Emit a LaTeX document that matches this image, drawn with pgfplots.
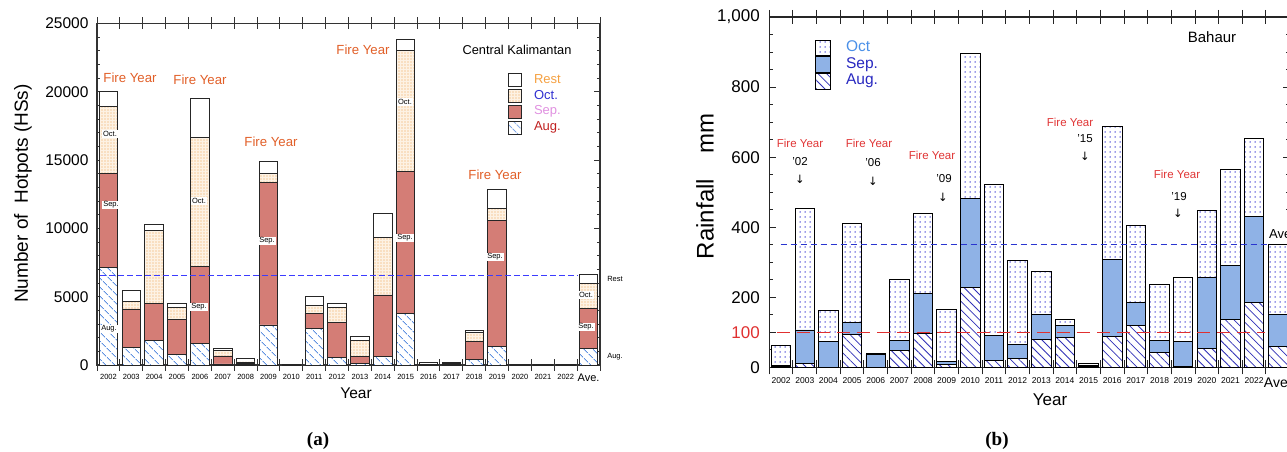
\documentclass[border=0pt]{standalone}
\usepackage{fontspec}
\setmainfont{Liberation Sans}
\newfontfamily\serifb{Liberation Serif}
\newfontfamily\dejavu{DejaVu Sans}
\usepackage{pgfplots}
\pgfplotsset{compat=1.18}
\usepackage{pgfplotstable}
\usetikzlibrary{patterns,patterns.meta}
\newcommand{\fs}[1]{\fontsize{#1}{#1}\selectfont}

\definecolor{augA}{RGB}{95,145,225}
\definecolor{sepA}{RGB}{212,125,118}
\definecolor{octAd}{RGB}{240,160,80}
\definecolor{octAb}{RGB}{253,242,228}
\definecolor{fireA}{RGB}{225,95,40}
\definecolor{restL}{RGB}{245,160,64}
\definecolor{octL}{RGB}{48,48,208}
\definecolor{sepL}{RGB}{224,144,224}
\definecolor{augL}{RGB}{192,32,32}
\definecolor{aveblue}{RGB}{60,60,255}
\definecolor{fireB}{RGB}{224,53,53}
\definecolor{blueB}{RGB}{42,53,208}
\definecolor{redB}{RGB}{224,48,48}
\definecolor{octB}{RGB}{53,53,208}
\definecolor{sepB}{RGB}{143,178,230}
\definecolor{augB}{RGB}{48,48,184}
\definecolor{octBL}{RGB}{74,144,232}
\definecolor{sepBL}{RGB}{40,40,192}

\pgfplotstableread{
i aug sep oct rest
0 7150 6900 4850 1100
1 1300 2800 560 780
2 1830 2660 5390 390
3 755 2590 875 295
4 1590 5600 9480 2850
5 75 585 390 170
6 20 120 80 270
7 2930 10415 655 910
8 10 20 10 20
9 2690 1090 560 710
10 535 2565 1125 290
11 125 485 1220 240
12 610 4515 4225 1750
13 3785 10395 8855 805
14 5 5 5 190
15 40 60 50 50
16 415 1340 635 170
17 1390 9220 860 1410
18 10 10 10 20
19 10 10 10 20
20 10 10 10 20
21 1220 2900 1860 660
}\dataA

\pgfplotstableread{
i aug sep oct
0 2 3 57
1 12 95 347
2 0 74 90
3 95 33 283
4 0 38 2
5 48 29 175
6 98 114 228
7 9 8 150
8 229 254 413
9 21 70 432
10 26 39 240
11 80 72 123
12 85 35 18
13 2 3 7
14 88 221 378
15 119 67 218
16 43 34 159
17 2 71 185
18 55 202 192
19 138 152 275
20 185 246 223
21 61 91 198
}\dataB

\pgfplotsset{
  boxA/.style={legend image code/.code={\draw[##1] (0pt,-6.5pt) rectangle (13pt,6.5pt);}},
  boxB/.style={legend image code/.code={\draw[##1] (0pt,-7.85pt) rectangle (15pt,7.85pt);}},
}

\begin{document}
\begin{tikzpicture}
% ---------------- Panel (a) ----------------
\begin{axis}[
  at={(97pt,87pt)}, anchor=south west, scale only axis,
  width=503pt, height=341.5pt,
  xmin=-0.5, xmax=21.5, ymin=0, ymax=25000,
  ybar stacked, bar width=18.5pt,
  xtick={-0.5,0.5,...,21.5},
  xticklabels={2002,2003,2004,2005,2006,2007,2008,2009,2010,2011,2012,2013,2014,2015,2016,2017,2018,2019,2020,2021,2022,{\fs{11}Ave.},{}},
  xticklabel style={xshift=11.43pt, font=\fs{7.5}, inner sep=0pt, yshift=-9pt},
  extra x ticks={-0.5,0.5,...,21.5}, extra x tick labels={},
  extra x tick style={tick align=outside},
  major tick length=6pt, minor tick length=3pt,
  ytick={0,5000,10000,15000,20000,25000},
  yticklabels={0,5000,10000,15000,20000,25000},
  scaled y ticks=false,
  minor y tick num=4,
  yticklabel style={font=\fs{15.5}, xshift=-5pt},
  axis line style={black!80, line width=1.1pt},
  every tick/.style={black!80, line width=1pt},
  clip=false,
  legend style={at={(axis description cs:0.817,0.855)}, anchor=north west, draw=none, fill=none, inner sep=0pt, font=\fs{13}, row sep=2pt, column sep=12pt, nodes={inner sep=0pt, anchor=west, text height=9.5pt, text depth=3.5pt}},
  reverse legend, legend cell align=left,
]
\addplot[draw=black!85, line width=0.9pt, preaction={fill=white}, pattern={Lines[angle=-45,distance=6.5pt,line width=0.9pt]}, pattern color=augA, boxA] table[x=i,y=aug]{\dataA};
\addplot[draw=black!85, line width=0.9pt, fill=sepA, boxA] table[x=i,y=sep]{\dataA};
\addplot[draw=black!85, line width=0.9pt, preaction={fill=octAb}, pattern={Dots[distance=3pt,radius=0.55pt]}, pattern color=octAd, boxA] table[x=i,y=oct]{\dataA};
\addplot[draw=black!85, line width=0.9pt, fill=white, boxA] table[x=i,y=rest]{\dataA};
\legend{\textcolor{augL}{Aug.},\textcolor{sepL}{Sep.},\textcolor{octL}{Oct.},\textcolor{restL}{Rest}}
\end{axis}

% ---------------- Panel (b) ----------------
\begin{axis}[
  at={(769.3pt,84.5pt)}, anchor=south west, scale only axis,
  width=520.3pt, height=350.5pt,
  xmin=-0.5, xmax=21.5, ymin=0, ymax=1000,
  ybar stacked, bar width=19.5pt,
  xtick={-0.5,0.5,...,21.5},
  xticklabels={2002,2003,2004,2005,2006,2007,2008,2009,2010,2011,2012,2013,2014,2015,2016,2017,2018,2019,2020,2021,2022,{\fs{14}Ave.},{}},
  xticklabel style={xshift=11.83pt, font=\fs{8.5}, inner sep=0pt, yshift=-10pt},
  extra x ticks={-0.5,0.5,...,21.5}, extra x tick labels={},
  extra x tick style={tick align=outside},
  major tick length=7pt, minor tick length=4pt,
  ytick={0,200,400,600,800,1000},
  yticklabels={0,200,400,600,800,{1,000}},
  scaled y ticks=false,
  minor y tick num=3,
  extra y ticks={100}, extra y tick labels={\textcolor{redB}{100}},
  yticklabel style={font=\fs{17}, xshift=-6pt},
  axis line style={black!85, line width=1.1pt},
  every tick/.style={black!85, line width=1pt},
  clip=false,
  legend style={at={(axis description cs:0.0878,0.936)}, anchor=north west, draw=none, fill=none, inner sep=0pt, font=\fs{15.5}, row sep=0pt, column sep=15pt, nodes={inner sep=0pt, anchor=west, text height=11.5pt, text depth=4.2pt}},
  reverse legend, legend cell align=left,
]
\addplot[draw=black, line width=0.9pt, preaction={fill=white}, pattern={Lines[angle=-45,distance=6pt,line width=0.8pt]}, pattern color=augB, boxB] table[x=i,y=aug]{\dataB};
\addplot[draw=black, line width=0.9pt, fill=sepB, boxB] table[x=i,y=sep]{\dataB};
\addplot[draw=black, line width=0.9pt, preaction={fill=white}, pattern={Dots[distance=5pt,radius=0.75pt]}, pattern color=octB, boxB] table[x=i,y=oct]{\dataB};
\legend{\textcolor{sepBL}{Aug.},\textcolor{sepBL}{Sep.},\textcolor{octBL}{Oct}}
\end{axis}
% overlay axis for the reference lines of panel (b)
\begin{axis}[
  at={(769.3pt,84.5pt)}, anchor=south west, scale only axis,
  width=520.3pt, height=350.5pt,
  xmin=-0.5, xmax=21.5, ymin=0, ymax=1000, hide axis, clip=false,
]
\addplot[blueB, line width=1.5pt, dash pattern=on 6pt off 4pt, no markers] coordinates {(-0.02,351) (20.55,351)};
\addplot[redB, line width=1.6pt, dash pattern=on 13pt off 7pt, no markers] coordinates {(-0.17,100) (20.46,100)};
\end{axis}
% overlay axis for the average line of panel (a)
\begin{axis}[
  at={(97pt,87pt)}, anchor=south west, scale only axis,
  width=503pt, height=341.5pt,
  xmin=-0.5, xmax=21.5, ymin=0, ymax=25000, hide axis, clip=false,
]
\addplot[draw=aveblue, color=aveblue, line width=1.8pt, dash pattern=on 6pt off 3pt, no markers] coordinates {(-0.37,6550) (20.5,6550)};
\end{axis}

% ---------------- Text (a) ----------------
\tikzset{lab/.style={fill=white, inner sep=1pt, font=\fs{7.5}}}
\node[lab] at (110pt,318pt) {Oct.};
\node[lab] at (111pt,247pt) {Sep.};
\node[lab] at (109pt,123pt) {Aug.};
\node[lab] at (199pt,251pt) {Oct.};
\node[lab] at (199pt,145pt) {Sep.};
\node[lab] at (267pt,211pt) {Sep.};
\node[lab] at (405pt,350pt) {Oct.};
\node[lab] at (405pt,214pt) {Sep.};
\node[lab] at (495pt,195pt) {Sep.};
\node[lab] at (586pt,157pt) {Oct.};
\node[lab] at (586pt,125pt) {Sep.};
\node[font=\fs{7.5}] at (615pt,173pt) {Rest};
\node[font=\fs{7.5}] at (615pt,95pt) {Aug.};
\foreach \p in {(130pt,374pt),(200pt,372pt),(271pt,310pt),(363pt,402pt),(495pt,277pt)}
  \node[font=\fs{13.2}, text=fireA] at \p {Fire Year};
\node[font=\fs{12.8}] at (517pt,402pt) {Central Kalimantan};
\node[font=\fs{19}, rotate=90] at (23pt,258.5pt) {Number of\ \ Hotpots (HSs)};
\node[font=\fs{15.5}] at (356pt,59pt) {Year};
\node[font=\serifb\bfseries\fs{19}] at (318pt,11pt) {(a)};

% ---------------- Text (b) ----------------
\node[font=\fs{24}, rotate=90] at (705pt,266pt) {Rainfall\hspace{26pt}mm};
\node[font=\fs{15}] at (1212pt,415pt) {Bahaur};
\foreach \p in {(800pt,309pt),(869pt,309pt),(932pt,297pt),(1070pt,330pt),(1177pt,278pt)}
  \node[font=\fs{11.5}, text=fireB] at \p {Fire Year};
\node[font=\fs{11.5}] at (800pt,290pt) {'02};
\node[font=\dejavu\fs{11.5}] at (800pt,273pt) {↓};
\node[font=\fs{11.5}] at (873pt,289pt) {'06};
\node[font=\dejavu\fs{11.5}] at (873pt,271pt) {↓};
\node[font=\fs{11.5}] at (944pt,273pt) {'09};
\node[font=\dejavu\fs{11.5}] at (943pt,255pt) {↓};
\node[font=\fs{11.5}] at (1085pt,313pt) {'15};
\node[font=\dejavu\fs{11.5}] at (1085pt,296pt) {↓};
\node[font=\fs{11.5}] at (1179pt,255pt) {'19};
\node[font=\dejavu\fs{11.5}] at (1178pt,239pt) {↓};
\node[font=\fs{17}] at (1050pt,52pt) {Year};
\node[font=\serifb\bfseries\fs{19}] at (997pt,11pt) {(b)};
\node[fill=white, inner sep=2pt, anchor=west, font=\fs{13}] at (1267pt,218pt) {Ave.};

\pgfresetboundingbox
\path[use as bounding box] (0pt,0pt) rectangle (1287pt,452pt);
\end{tikzpicture}
\end{document}
